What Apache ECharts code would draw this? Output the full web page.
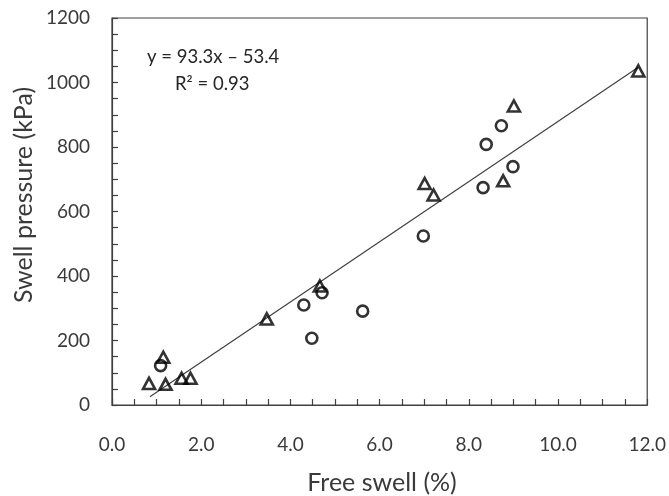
<!DOCTYPE html>
<html>
<head>
<meta charset="utf-8">
<script src="https://cdn.jsdelivr.net/npm/echarts@6/dist/echarts.min.js"></script>
<style>
  html, body { margin: 0; padding: 0; background: #fff; }
  #chart { width: 669px; height: 496px; }
</style>
</head>
<body>
<div id="chart"></div>
<script>
// Free swell (%) vs swell pressure (kPa), two sample groups
const circleFreeSwell = [1.09, 4.30, 4.48, 4.71, 5.62, 6.98, 8.32, 8.39, 8.73, 8.99];
const circlePressure  = [122, 310, 207, 348, 291, 524, 674, 808, 866, 739];

const triangleFreeSwell = [0.83, 1.20, 1.15, 1.56, 1.76, 3.47, 4.66, 7.01, 7.21, 8.77, 9.01, 11.80];
const trianglePressure  = [67, 64, 148, 83, 83, 267, 369, 687, 651, 695, 927, 1036];

// Linear fit reported on the chart
const fitSlope = 93.3;
const fitIntercept = -53.4;
const fitRange = [0.85, 11.8];
const fitLabel = 'y = 93.3x \u2013 53.4';
const r2Label = 'R\u00b2 = 0.93';

const xTickLabels = ['0.0', '2.0', '4.0', '6.0', '8.0', '10.0', '12.0'];
const yTickLabels = ['0', '200', '400', '600', '800', '1000', '1200'];
const xTitle = 'Free swell (%)';
const yTitle = 'Swell pressure (kPa)';

const pairs = (xs, ys) => xs.map((x, i) => [x, ys[i]]);
const fitLine = fitRange.map(x => [x, fitSlope * x + fitIntercept]);

const FONT = 'Lato';
const TXT = '#3a3a3a';
const AXIS = '#404040';

const chart = echarts.init(document.getElementById('chart'));
chart.setOption({
  animation: false,
  backgroundColor: '#fff',
  grid: {
    left: 112, right: 20, top: 18, bottom: 91,
    show: true, borderColor: AXIS, borderWidth: 1.2
  },
  xAxis: {
    type: 'value', min: 0, max: 12, interval: 2,
    axisLine: { lineStyle: { color: AXIS, width: 1.2 } },
    axisTick: { inside: true, length: 6, lineStyle: { color: AXIS, width: 1.2 } },
    minorTick: { show: true, splitNumber: 4, length: 6, lineStyle: { color: AXIS, width: 1.2 } },
    splitLine: { show: false },
    axisLabel: {
      margin: 30, fontFamily: FONT, fontSize: 19, color: TXT,
      formatter: (v) => xTickLabels[Math.round(v / 2)]
    }
  },
  yAxis: {
    type: 'value', min: 0, max: 1200, interval: 200,
    axisLine: { show: true, lineStyle: { color: AXIS, width: 1.2 } },
    axisTick: { show: true, inside: true, length: 6, lineStyle: { color: AXIS, width: 1.2 } },
    minorTick: { show: true, splitNumber: 4, length: 6, lineStyle: { color: AXIS, width: 1.2 } },
    splitLine: { show: false },
    axisLabel: {
      margin: 22, fontFamily: FONT, fontSize: 19, color: TXT,
      formatter: (v) => yTickLabels[Math.round(v / 200)]
    }
  },
  graphic: [
    { type: 'text', x: 147, y: 57,
      style: { text: fitLabel, fontFamily: FONT, fontSize: 18.5, fill: '#262626', verticalAlign: 'middle' } },
    { type: 'text', x: 175, y: 84,
      style: { text: r2Label, fontFamily: FONT, fontSize: 18.5, fill: '#262626', verticalAlign: 'middle' } },
    { type: 'text', x: 382, y: 483,
      style: { text: xTitle, fontFamily: FONT, fontSize: 25, fill: TXT, align: 'center', verticalAlign: 'middle' } },
    { type: 'text', x: 24, y: 195, rotation: Math.PI / 2,
      style: { text: yTitle, fontFamily: FONT, fontSize: 25, fill: TXT, align: 'center', verticalAlign: 'middle' } }
  ],
  series: [
    {
      type: 'line', data: fitLine, showSymbol: false, silent: true,
      lineStyle: { color: AXIS, width: 1.2 }, z: 1
    },
    {
      type: 'scatter', data: pairs(circleFreeSwell, circlePressure),
      symbol: 'circle', symbolSize: 11,
      itemStyle: { color: 'rgba(255,255,255,0)', borderColor: '#000', borderWidth: 2.6 }, z: 3
    },
    {
      type: 'scatter', data: pairs(triangleFreeSwell, trianglePressure),
      symbol: 'triangle', symbolSize: [12, 11],
      itemStyle: { color: 'rgba(255,255,255,0)', borderColor: '#000', borderWidth: 2.6 }, z: 3
    }
  ]
});
</script>
</body>
</html>
